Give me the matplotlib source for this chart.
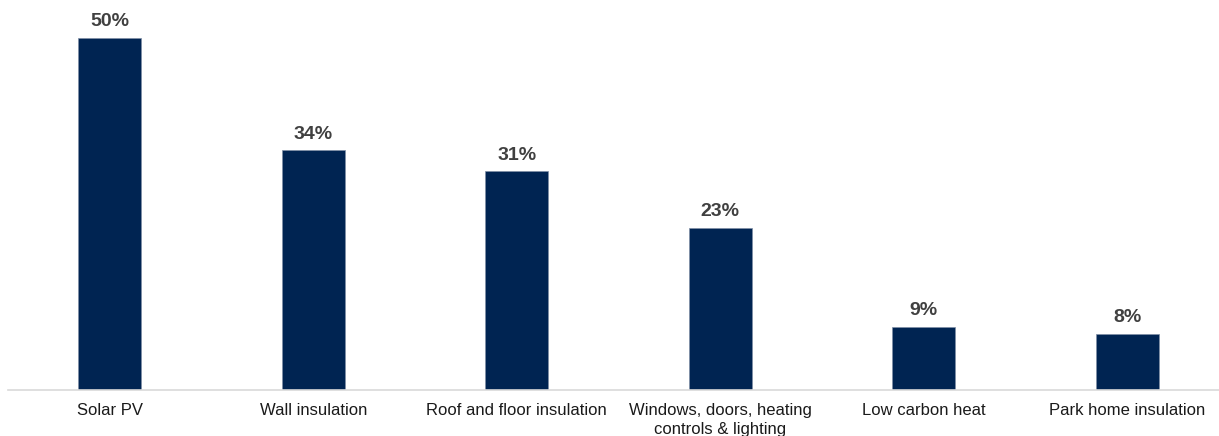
import matplotlib.pyplot as plt
import numpy as np

plt.rcParams['font.family'] = ['Liberation Sans', 'DejaVu Sans']

categories = ["Solar PV", "Wall insulation", "Roof and floor insulation",
              "Windows, doors, heating\ncontrols & lighting", "Low carbon heat",
              "Park home insulation"]
values = [50, 34, 31, 23, 9, 8]

fig = plt.figure(figsize=(12.19, 4.36), dpi=100)
ax = fig.add_axes([8 / 1219, 46 / 436, 1221 / 1219, 387 / 436])

x = np.arange(len(categories))
bars = ax.bar(x, values, width=0.31, color='#002452', edgecolor='#7f8fa6', linewidth=0.5)

for xi, v in zip(x, values):
    ax.annotate(f"{v}%", (xi, v), xytext=(0, 5.5), textcoords='offset points',
                ha='center', va='bottom', fontsize=14, fontweight='bold', color='#404040')

ax.set_xlim(-0.5, 5.5)
ax.set_ylim(0, 54.9)
ax.set_xticks(x)
ax.set_xticklabels(categories, fontsize=12, color='#1a1a1a', va='top', linespacing=1.3)
ax.tick_params(axis='x', length=0, pad=9.5)
ax.set_yticks([])
for s in ['top', 'right', 'left']:
    ax.spines[s].set_visible(False)
ax.spines['bottom'].set_color('#d9d9d9')
ax.spines['bottom'].set_linewidth(1.2)

plt.savefig("out.png", dpi=100)
